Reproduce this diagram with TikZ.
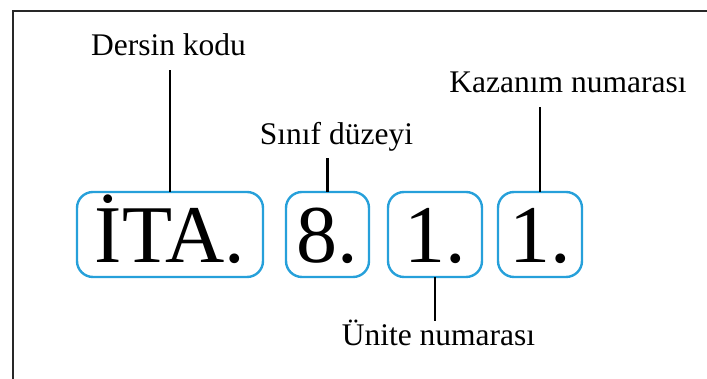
\documentclass[tikz,border=0pt]{standalone}
\usepackage{fontspec}
\setmainfont{Liberation Serif}
\usetikzlibrary{positioning}
\definecolor{kodmavi}{RGB}{38,160,218}
\definecolor{cerceve}{RGB}{40,40,40}
\tikzset{
    kutu/.style={draw=kodmavi,line width=1.2pt,rounded corners=8pt,inner sep=0pt,outer sep=0pt,
        text height=35.5pt,text depth=7pt,font=\fontsize{41}{48}\selectfont},
    etiket/.style={inner sep=0pt,text height=11pt,text depth=0pt,anchor=base,
        font=\fontsize{15.75}{18}\selectfont},
    cizgi/.style={line width=1.3pt},
    cerceveci/.style={draw=cerceve,line width=1.3pt}
}

\begin{document}
\begin{tikzpicture}[x=0.5pt,y=0.5pt]
                \useasboundingbox (0,0) rectangle (707,379);
                \draw[cerceveci] (13,0) -- (13,368) -- (707,368);

                \node[kutu,minimum width=93pt] (kod kutu) at (170,144.5) {İTA.};
                \node[kutu,minimum width=41.5pt] (sinif kutu) [right=11.5pt of kod kutu]   {8.};
                \node[kutu,minimum width=47pt]   (unite kutu) [right=9.5pt of sinif kutu]  {1.};
                \node[kutu,minimum width=42pt]   (kazanim kutu) [right=8pt of unite kutu]  {1.};

                \node[etiket] (kod)     at (168.5,323) {Dersin kodu};
                \node[etiket] (sinif)   at (336.5,234) {Sınıf düzeyi};
                \node[etiket] (kazanim) at (568,286)   {Kazanım numarası};
                \node[etiket] (unite)   at (438.5,33)  {Ünite numarası};

                \draw[cizgi,shorten >=7pt] (kod kutu.north) -- (kod kutu.north |- kod.south);
                \draw[cizgi,shorten >=6.5pt] (sinif kutu.north) -- (sinif kutu.north |- sinif.south);
                \draw[cizgi,shorten >=7pt] (kazanim kutu.north) -- (kazanim kutu.north |- kazanim.south);
                \draw[cizgi,shorten >=1.5pt] (unite kutu.south) -- (unite kutu.south |- unite.north);

\end{tikzpicture}
\end{document}
